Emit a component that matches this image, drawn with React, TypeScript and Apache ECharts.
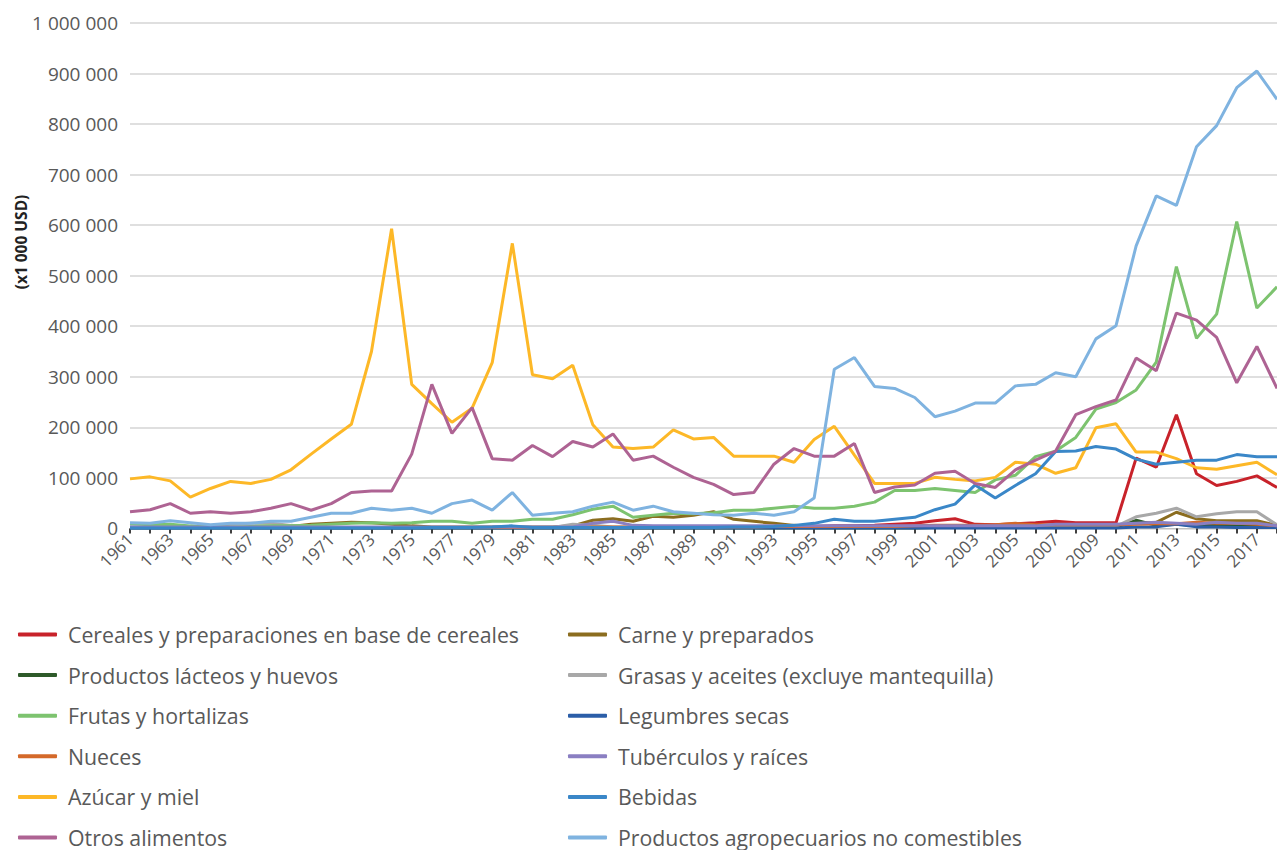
import React, { useEffect, useRef } from "react";
import * as echarts from "echarts";

const years: string[] = [];
for (let y = 1961; y <= 2018; y++) years.push(String(y));

const cereales = [
  2000, 2000, 2000, 2000, 2000, 2000, 2000, 2000, 2000, 2000,
  2000, 2000, 2000, 2000, 2000, 2000, 2000, 2000, 2000, 2000,
  2000, 2000, 2000, 2000, 2000, 2000, 2000, 2000, 2000, 2000,
  3000, 3000, 3000, 4000, 4000, 5000, 5000, 6000, 8000, 10000,
  15000, 19000, 8000, 7000, 9000, 11000, 14000, 11000, 11000, 11000,
  139000, 121000, 225000, 108000, 85000, 93000, 104000, 81000,
];
const carne = [
  2000, 2000, 2000, 2000, 2000, 2000, 2000, 2000, 4000, 8000,
  10000, 12000, 11000, 8000, 5000, 3000, 3000, 3000, 3000, 3000,
  3000, 3000, 5000, 16000, 19000, 14000, 24000, 22000, 26000, 33000,
  18000, 14000, 10000, 6000, 4000, 4000, 4000, 3000, 3000, 3000,
  3000, 3000, 3000, 3000, 4000, 4000, 4000, 4000, 4000, 4000,
  10000, 12000, 32000, 19000, 15000, 15000, 15000, 6000,
];
const lacteos = [
  1000, 1000, 1000, 1000, 1000, 1000, 1000, 1000, 1000, 1000,
  1000, 1000, 1000, 1000, 1000, 1000, 1000, 1000, 1000, 1000,
  1000, 1000, 1000, 1000, 1000, 1000, 1000, 1000, 1000, 1000,
  1000, 1000, 1000, 1000, 1000, 1000, 1000, 1000, 1000, 1000,
  2000, 2000, 2000, 2000, 2000, 2000, 2000, 2000, 2000, 3000,
  16000, 6000, 8000, 6000, 6000, 5000, 6000, 3000,
];
const grasas = [
  3000, 3000, 3000, 3000, 5000, 8000, 10000, 10000, 6000, 3000,
  2000, 2000, 2000, 2000, 2000, 2000, 2000, 2000, 2000, 2000,
  2000, 2000, 8000, 6000, 3000, 3000, 3000, 3000, 3000, 3000,
  2000, 2000, 2000, 2000, 2000, 2000, 2000, 2000, 2000, 2000,
  2000, 2000, 2000, 2000, 2000, 3000, 3000, 3000, 3000, 4000,
  23000, 30000, 40000, 23000, 29000, 33000, 33000, 7000,
];
const frutas = [
  9000, 7000, 8000, 5000, 3000, 3000, 4000, 5000, 5000, 6000,
  8000, 10000, 11000, 10000, 11000, 14000, 14000, 10000, 14000, 14000,
  18000, 18000, 27000, 38000, 44000, 22000, 26000, 30000, 29000, 31000,
  36000, 36000, 40000, 44000, 40000, 40000, 44000, 52000, 75000, 75000,
  79000, 75000, 71000, 96000, 105000, 142000, 153000, 180000, 236000, 249000,
  274000, 329000, 518000, 376000, 424000, 607000, 436000, 478000,
];
const legumbres = [
  1000, 1000, 1000, 1000, 1000, 1000, 1000, 1000, 1000, 1000,
  1000, 1000, 1000, 1000, 1000, 1000, 1000, 1000, 1000, 1000,
  1000, 1000, 1000, 1000, 1000, 1000, 1000, 1000, 1000, 1000,
  1000, 1000, 1000, 1000, 1000, 1000, 1000, 1000, 1000, 1000,
  1000, 1000, 1000, 1000, 1000, 1000, 1000, 1000, 1000, 1000,
  3000, 3000, 8000, 3000, 3000, 2000, 2000, 2000,
];
const nueces = [
  2000, 2000, 2000, 2000, 2000, 2000, 2000, 2000, 2000, 2000,
  2000, 2000, 2000, 2000, 2000, 2000, 2000, 2000, 2000, 2000,
  2000, 2000, 2000, 3000, 3000, 3000, 3000, 3000, 3000, 3000,
  3000, 3000, 4000, 4000, 4000, 4000, 4000, 4000, 4000, 5000,
  6000, 6000, 6000, 7000, 10000, 7000, 7000, 7000, 7000, 7000,
  8000, 9000, 9000, 12000, 10000, 10000, 8000, 5000,
];
const tuberculos = [
  3000, 3000, 3000, 3000, 3000, 3000, 3000, 3000, 3000, 3000,
  3000, 3000, 3000, 3000, 3000, 3000, 3000, 3000, 3000, 3000,
  3000, 3000, 3000, 10000, 14000, 6000, 5000, 5000, 5000, 5000,
  5000, 5000, 5000, 5000, 5000, 5000, 5000, 5000, 5000, 5000,
  5000, 5000, 5000, 5000, 5000, 5000, 8000, 8000, 8000, 8000,
  10000, 12000, 10000, 8000, 12000, 10000, 10000, 5000,
];
const azucar = [
  98000, 102000, 94000, 62000, 79000, 93000, 89000, 97000, 116000, 147000,
  177000, 206000, 350000, 593000, 285000, 247000, 210000, 238000, 328000, 564000,
  304000, 296000, 323000, 205000, 161000, 158000, 161000, 195000, 177000, 180000,
  143000, 143000, 143000, 131000, 176000, 202000, 145000, 89000, 89000, 89000,
  101000, 97000, 94000, 101000, 131000, 127000, 109000, 120000, 199000, 207000,
  151000, 151000, 138000, 120000, 117000, 124000, 131000, 106000,
];
const bebidas = [
  1000, 1000, 1000, 1000, 1000, 1000, 1000, 1000, 1000, 1000,
  1000, 1000, 1000, 1000, 1000, 2000, 2000, 2000, 3000, 5000,
  2000, 2000, 2000, 2000, 2000, 2000, 2000, 2000, 2000, 2000,
  3000, 3000, 4000, 6000, 10000, 18000, 14000, 14000, 18000, 22000,
  37000, 48000, 86000, 60000, 85000, 108000, 152000, 153000, 162000, 157000,
  137000, 127000, 131000, 135000, 135000, 146000, 142000, 142000,
];
const otros = [
  33000, 37000, 49000, 30000, 33000, 30000, 33000, 40000, 49000, 36000,
  49000, 71000, 74000, 74000, 147000, 285000, 188000, 239000, 138000, 135000,
  164000, 142000, 172000, 161000, 187000, 135000, 143000, 121000, 101000, 87000,
  67000, 71000, 127000, 158000, 143000, 143000, 168000, 71000, 82000, 86000,
  109000, 113000, 89000, 81000, 116000, 135000, 153000, 225000, 241000, 254000,
  337000, 312000, 426000, 412000, 378000, 288000, 360000, 277000,
];
const noComestibles = [
  11000, 10000, 15000, 11000, 7000, 10000, 10000, 14000, 14000, 22000,
  30000, 30000, 40000, 36000, 40000, 30000, 49000, 56000, 36000, 71000,
  26000, 30000, 33000, 44000, 52000, 36000, 44000, 33000, 30000, 27000,
  26000, 30000, 26000, 33000, 60000, 315000, 338000, 281000, 277000, 259000,
  221000, 232000, 248000, 248000, 282000, 285000, 308000, 300000, 375000, 401000,
  559000, 658000, 639000, 755000, 797000, 872000, 905000, 849000,
];

const seriesDefs = [
  { name: "Cereales y preparaciones en base de cereales", data: cereales, color: "#C8222A" },
  { name: "Carne y preparados", data: carne, color: "#8B6D1F" },
  { name: "Productos lácteos y huevos", data: lacteos, color: "#2E5A2A" },
  { name: "Grasas y aceites (excluye mantequilla)", data: grasas, color: "#A8A8A8" },
  { name: "Frutas y hortalizas", data: frutas, color: "#7DC36F" },
  { name: "Legumbres secas", data: legumbres, color: "#2B5EA8" },
  { name: "Nueces", data: nueces, color: "#D4692A" },
  { name: "Tubérculos y raíces", data: tuberculos, color: "#8A7FC2" },
  { name: "Azúcar y miel", data: azucar, color: "#FDB827" },
  { name: "Bebidas", data: bebidas, color: "#3A87C8" },
  { name: "Otros alimentos", data: otros, color: "#AE6393" },
  { name: "Productos agropecuarios no comestibles", data: noComestibles, color: "#7FB3E0" },
];

const FONT = "'Open Sans', 'Noto Sans', sans-serif";

function fmt(v: number): string {
  return String(v).replace(/\B(?=(\d{3})+(?!\d))/g, " ");
}

export default function App() {
  const ref = useRef<HTMLDivElement>(null);
  useEffect(() => {
    if (!ref.current) return;
    const chart = echarts.init(ref.current, undefined, { renderer: "svg" });
    const legends = seriesDefs.map((s, i) => ({
      orient: "horizontal" as const,
      left: i % 2 === 0 ? 18 : 568,
      top: 624 + Math.floor(i / 2) * 40.6,
      padding: 0,
      itemWidth: 39,
      itemHeight: 4,
      icon: "roundRect",
      formatter: (name: string) => `{g|}{t|${name}}`,
      textStyle: {
        fontFamily: FONT,
        fontSize: 21.3,
        lineHeight: 20,
        color: "#595959",
        rich: {
          g: { width: 6, fontSize: 21.3, lineHeight: 20 },
          t: { fontFamily: FONT, fontSize: 21.3, lineHeight: 20, color: "#595959" },
        },
      },
      selectedMode: false,
      data: [s.name],
    }));
    chart.setOption({
      animation: false,
      backgroundColor: "#ffffff",
      grid: { left: 130, top: 23, width: 57 * 20.15, height: 505.4, containLabel: false },
      xAxis: {
        type: "category",
        data: years,
        boundaryGap: false,
        axisLine: { show: true, lineStyle: { color: "#bfbfbf", width: 1 } },
        axisTick: { show: true, interval: 0, length: 5, lineStyle: { color: "#000", width: 1.5 } },
        axisLabel: {
          interval: 1,
          rotate: 45,
          fontFamily: FONT,
          fontSize: 17,
          color: "#595959",
          margin: 8,
        },
        splitLine: { show: false },
      },
      yAxis: {
        type: "value",
        min: 0,
        max: 1000000,
        interval: 100000,
        axisLine: { show: false },
        axisTick: { show: false },
        axisLabel: {
          formatter: (v: number) => fmt(v),
          fontFamily: FONT,
          fontSize: 19,
          color: "#595959",
          margin: 12,
        },
        splitLine: { show: true, lineStyle: { color: "#d4d4d4", width: 1.5 } },
      },
      legend: legends,
      graphic: [
        {
          type: "text",
          x: 21,
          y: 242,
          rotation: Math.PI / 2,
          style: {
            text: "(x1 000 USD)",
            font: `bold 15.5px ${FONT}`,
            fill: "#222222",
            align: "center",
            verticalAlign: "middle",
          },
        },
      ],
      series: seriesDefs.map((s) => ({
        name: s.name,
        type: "line",
        data: s.data,
        symbol: "none",
        showSymbol: false,
        itemStyle: { color: s.color },
        lineStyle: { color: s.color, width: 3 },
        emphasis: { disabled: true },
      })),
    });
    return () => chart.dispose();
  }, []);
  return (
    <div
      ref={ref}
      style={{ position: "fixed", left: 0, top: 0, width: 1277, height: 850 }}
    />
  );
}
